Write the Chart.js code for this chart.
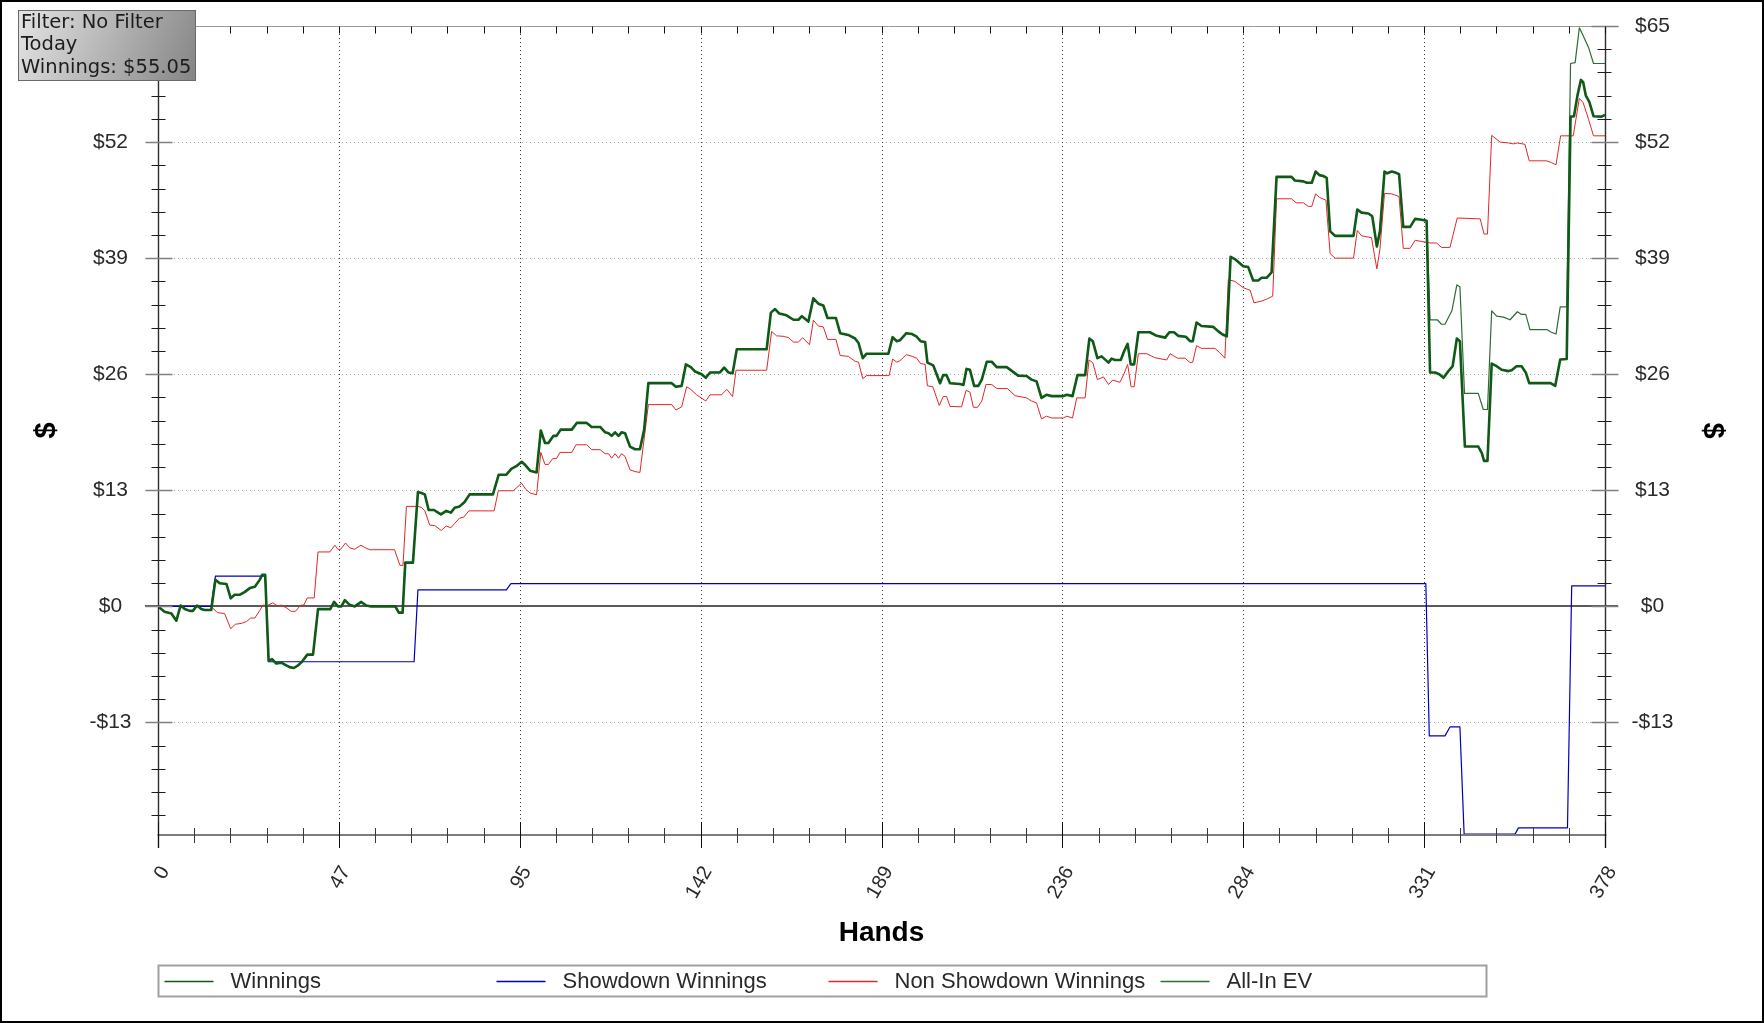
<!DOCTYPE html>
<html>
<head>
<meta charset="utf-8">
<script src="https://cdn.jsdelivr.net/npm/chart.js@4.4.1/dist/chart.umd.min.js"></script>
<style>
  html, body { margin: 0; padding: 0; background: #ffffff; }
  canvas { display: block; }
</style>
</head>
<body>
<canvas id="c" width="1764" height="1023" style="width:1764px;height:1023px"></canvas>
<script>
// ---------------- DATA ----------------
const seriesNames = ['Winnings', 'Showdown Winnings', 'Non Showdown Winnings', 'All-In EV'];
const infoLines = ['Filter: No Filter', 'Today', 'Winnings: $55.05'];
const xTitle = 'Hands';
const yTitle = '$';

const xTickValues = [0, 47.25, 94.5, 141.75, 189, 236.25, 283.5, 330.75, 378];
const xTickLabels = ['0', '47', '95', '142', '189', '236', '284', '331', '378'];
const yTickValues = [-13, 0, 13, 26, 39, 52, 65];
const yTickLabels = ['-$13', '$0', '$13', '$26', '$39', '$52', '$65'];
const yMin = -25.6;
const yMax = 65;
const xMin = 0;
const xMax = 378;

// [hand, dollars]
const winnings = [
  [0,0],[1.7,-0.6],[3.5,-0.8],[4.8,-1.6],[5.9,0.1],[7,-0.3],[8.3,-0.5],[9.1,-0.5],[10.2,0.1],[11.3,-0.3],
  [12.2,-0.4],[13.9,-0.4],[15,3.0],[16.1,2.6],[17.9,2.5],[19,0.9],[20,1.3],[21.3,1.3],[22.6,1.6],[24,2.05],
  [25.3,2.2],[26.6,3.0],[27.2,3.55],[28,3.55],[28.9,-6.1],[29.8,-5.9],[30.9,-6.4],[32.2,-6.3],[33.5,-6.6],
  [34.4,-6.8],[35.5,-6.9],[36.6,-6.6],[37.6,-6.2],[39,-5.4],[40.5,-5.4],[41.8,-0.3],[45,-0.3],[46,0.5],
  [47,0.0],[47.9,0.0],[48.8,0.7],[50,0.2],[51.4,0.0],[53.1,0.5],[54.4,0.1],[55.7,0],[62,0],[62.9,-0.7],
  [63.9,-0.7],[64.6,4.9],[66.6,4.9],[67.9,12.8],[68.8,12.7],[69.7,12.55],[70.7,10.8],[72.1,10.8],[73.9,10.3],
  [75.3,10.7],[76.5,10.5],[77.5,11.05],[78.8,11.2],[80.1,11.7],[81.4,12.55],[87.5,12.55],[89,14.75],[91,14.75],
  [92.3,15.4],[93.6,15.7],[95,16.2],[96,15.8],[97.2,15.2],[98.9,15.0],[100,19.7],[101.1,18.3],[102,18.3],
  [103.3,19.1],[104.1,19.1],[105.2,19.8],[108.1,19.8],[109.4,20.55],[112,20.55],[113.3,20.1],[115.5,20.1],
  [116.8,19.5],[117.7,19.4],[118.5,19.1],[119.4,19.5],[120.3,19.1],[121.1,19.5],[122,19.4],[123.3,17.9],
  [124.6,17.6],[125.9,17.6],[127,19.8],[128.1,25.0],[134.2,25.0],[135.3,24.6],[136.8,24.7],[137.9,27.1],
  [139.2,26.8],[140.3,26.3],[142,26.0],[143.1,25.6],[144.2,26.2],[146.8,26.2],[147.9,26.75],[149,26.2],
  [150.1,26.1],[151.2,28.8],[159,28.8],[160.1,32.9],[161.2,33.3],[162.3,32.8],[164.2,32.6],[166,32.1],
  [167.3,32.1],[168.2,32.5],[169.9,31.9],[171.2,34.5],[172.5,33.9],[173.8,33.7],[174.9,32.3],[177.1,32.3],
  [178.2,30.6],[180.3,30.4],[182.1,30.0],[183,29.5],[184.1,27.8],[185.1,28.3],[190.8,28.3],[191.9,30.15],
  [193,29.7],[193.8,29.8],[195.5,30.6],[197,30.5],[198.2,30.2],[199.2,29.7],[200.4,29.6],[201,27.3],
  [202.5,27.0],[204.3,25.0],[205.1,25.9],[206,25.9],[206.9,25.0],[209.5,24.9],[210.4,24.8],[211.2,26.6],
  [212.1,26.5],[213.2,24.7],[214.3,24.7],[215.2,25.4],[216.5,27.4],[217.8,27.4],[219.1,26.8],[221.7,26.8],
  [224.7,25.85],[226.9,25.8],[228.2,25.4],[229.5,25.2],[230.8,23.35],[232.1,23.7],[233.5,23.55],[236.5,23.55],
  [237.4,23.7],[238.9,23.55],[240.2,25.9],[242.2,25.9],[243.3,30.0],[244.2,29.7],[245.4,27.8],[246.5,28.0],
  [248.3,27.3],[249.1,27.75],[250,27.6],[251.5,27.6],[252.4,28.6],[253.3,29.4],[254.1,27.1],[255,27.1],
  [256.1,30.7],[259.1,30.7],[260.9,30.3],[263.1,30.1],[264.2,30.7],[265.4,30.7],[266.5,30.3],[268.5,30.2],
  [269.6,29.7],[270.3,29.7],[271.3,31.8],[272.6,31.4],[275.7,31.3],[277,30.8],[278.1,30.45],[279.2,30.25],
  [280.2,39.15],[281.3,38.9],[283.5,38.1],[284.8,38.0],[286.1,36.5],[287.4,36.5],[288.3,36.8],[289.6,36.8],
  [290.9,37.4],[292.2,48.1],[296.1,48.1],[297,47.7],[299.2,47.6],[300.1,47.45],[301.4,47.45],[302.4,48.7],
  [303.4,48.3],[304.4,48.2],[305.3,48.0],[306.2,42.0],[307.5,41.5],[312.3,41.5],[313.3,44.45],[314.4,44.1],
  [316.2,44.0],[317.2,43.7],[318.4,40.3],[319.2,42.0],[320.4,48.7],[321.1,48.5],[322.3,48.7],[323.2,48.6],
  [324.2,48.4],[325.3,42.5],[327.1,42.5],[328.4,43.4],[330.1,43.3],[331.4,43.2],[332.3,26.2],[333.6,26.2],
  [334.7,26.0],[335.8,25.6],[337.1,26.35],[338.2,26.9],[339.3,30.0],[340.1,29.7],[341.4,17.9],[344.9,17.9],
  [345.8,17.2],[346.4,16.3],[347.3,16.3],[348.4,27.2],[349.7,26.9],[351,26.5],[352.8,26.35],[353.6,26.45],
  [354.9,26.9],[356.2,26.9],[357.3,26.2],[358.2,25.0],[361.9,25.0],[363.8,25.0],[365,24.7],[366.3,27.65],
  [368,27.7],[369,54.85],[369.9,54.9],[370.8,57.2],[371.7,58.96],[372.3,58.7],[373,57.2],[373.9,56.5],
  [375,54.9],[377.1,54.85],[378,55.05]
];

const showdownWinnings = [
  [0,0],[13.9,0],[15,3.4],[28,3.4],[28.9,-6.2],[66.9,-6.2],[67.9,1.85],[91,1.85],[92.2,2.55],[331.2,2.55],
  [332.1,-14.5],[336.2,-14.5],[337.5,-13.5],[340.1,-13.5],[341.2,-25.5],[354.5,-25.5],[355.4,-24.8],
  [368.2,-24.8],[369.3,2.3],[378,2.3]
];

const nonShowdownWinnings = [
  [0,0],[13.9,0],[15.5,-0.7],[17.4,-0.8],[19,-2.5],[20.2,-2.0],[21.8,-1.9],[23.1,-1.7],[24.2,-1.3],[25.3,-1.3],
  [26.6,-0.45],[27.4,0.15],[28.6,0.1],[30,0.4],[31.2,0.05],[32.2,0.15],[33.5,-0.15],[34.8,-0.55],[35.9,-0.55],
  [37.3,0.15],[38.1,0.15],[39,0.95],[40.8,0.95],[41.8,6.1],[44.9,6.1],[46.2,6.85],[47,6.4],[47.7,6.4],[49,7.1],
  [50.1,6.55],[51.4,6.4],[53,6.85],[54,6.6],[55.3,6.35],[61.8,6.35],[63.2,4.6],[64,4.6],[64.9,11.2],[67.8,11.2],
  [68.8,11.1],[69.7,10.7],[71,9.1],[72.3,9.05],[74,8.5],[75.3,9.0],[76.5,8.8],[77.5,9.3],[78.8,9.9],[79.9,10.0],
  [81.2,10.7],[87.8,10.7],[88.9,12.95],[92.8,12.95],[95,13.8],[96,13.15],[97.2,12.7],[98.9,12.5],[100,17.25],
  [101.1,15.9],[102,15.9],[103.1,16.55],[104.1,16.55],[105,17.25],[108.1,17.25],[109.2,18.1],[112,18.1],
  [113.3,17.55],[115.5,17.55],[116.8,17.1],[117.7,17.1],[118.5,16.6],[119.4,17.1],[120.3,16.6],[121.1,17.1],
  [122,16.8],[123.3,15.3],[124.6,15.1],[125.9,15.0],[128.1,22.6],[134.2,22.6],[135.3,22.0],[136.8,22.35],
  [138.1,24.6],[139.2,24.3],[140.7,23.7],[143.1,23.0],[144.2,23.7],[147.2,23.7],[148.6,24.3],[150.1,23.5],
  [151,26.45],[159,26.45],[160.3,30.8],[161.6,30.3],[163.3,30.25],[164.7,30.1],[166,29.6],[167.3,29.6],
  [168.4,30.1],[170.2,29.3],[171.2,32.05],[172.5,31.4],[173.8,31.3],[174.9,29.9],[177.1,29.9],[178.2,28.1],
  [180.3,28.0],[182.1,27.45],[183,27.35],[184.1,25.5],[185.1,25.85],[191,25.85],[191.9,27.7],[193,27.35],
  [193.8,27.5],[195.5,28.2],[197,28.0],[198.2,27.8],[199.2,27.2],[200.4,27.1],[201,24.7],[202.4,24.6],
  [204.1,22.5],[205.1,23.5],[206,23.5],[206.9,22.4],[209.9,22.35],[211.1,24.2],[212.1,24.0],[213,22.3],
  [214.1,22.3],[215.2,23.0],[216.3,24.85],[217.8,24.85],[219.1,24.4],[221.9,24.4],[223.9,23.6],[226.9,23.35],
  [228.2,23.0],[229.5,22.8],[230.8,21.0],[232.1,21.3],[233.5,21.1],[236.5,21.1],[237.4,21.3],[238.9,21.1],
  [240,23.35],[242.2,23.35],[243.2,27.6],[244.2,27.3],[245.4,25.4],[247,25.7],[248.3,24.85],[249.4,25.35],
  [251.3,25.1],[252.4,26.1],[253.3,27.1],[254.2,24.6],[255,24.6],[256.1,28.3],[258.3,28.3],[260.4,27.85],
  [263.5,27.6],[264.4,28.3],[266.3,27.8],[268.3,27.8],[269.6,27.3],[270.3,27.35],[271.3,29.2],[272.6,28.9],
  [276.1,28.9],[277.4,28.4],[278.7,27.8],[279.6,36.6],[281.3,36.4],[283.5,35.7],[285.3,35.4],[286.3,34.0],
  [288.3,34.2],[289.6,34.4],[291.2,34.75],[292.2,45.65],[296.1,45.65],[297.3,45.2],[299.2,45.2],[300.5,44.8],
  [301.4,44.8],[302.4,46.2],[303.4,45.8],[305.1,45.5],[306.2,39.5],[307.5,39.0],[312.3,39.0],[313.3,42.1],
  [314.4,41.5],[317,41.3],[318.4,37.8],[319.2,40.0],[320.4,46.25],[322.3,46.2],[324.2,45.9],[325.3,40.1],
  [327.1,40.1],[328.4,41.0],[331,40.8],[332.3,40.7],[334,40.7],[335.3,40.2],[337.5,40.2],[339.4,43.5],
  [345.4,43.4],[346.4,41.7],[347.3,41.7],[348.4,52.75],[350.6,52.0],[352.8,51.9],[354.1,51.8],[355.1,51.9],
  [357.1,51.75],[358.2,49.9],[362.8,49.9],[364,49.7],[365.2,49.45],[366.4,52.7],[369.7,52.7],[371.3,56.9],
  [372.3,56.4],[373.7,54.55],[375,52.7],[378,52.7]
];

// All-In EV runs on top of Winnings up to hand ~331, then separates:
const allInEvSplitHand = 331.4;
const allInEvAfterSplit = [
  [332.3,32.1],[334.2,32.1],[335.3,31.6],[336.2,31.6],[338,33.1],[339.3,36.0],[340.1,35.8],[341.3,23.85],
  [344.9,23.85],[346.2,22.05],[347.3,22.05],[348.4,33.1],[349.7,32.5],[351.5,32.4],[353.2,32.1],[355.1,33.0],
  [356.2,32.7],[357.3,32.7],[358.4,31.0],[362.8,31.0],[364,30.7],[365.2,30.5],[366.3,33.55],[368,33.55],
  [369,60.8],[370.2,60.9],[371.3,64.8],[372.3,63.9],[373.7,62.6],[375,60.8],[378,60.8]
];
const allInEv = winnings.filter(p => p[0] <= allInEvSplitHand).concat(allInEvAfterSplit);

// ---------------- STYLE ----------------
const SANS = "'Liberation Sans', Arial, Helvetica, sans-serif";
const INFO_FONT = "'DejaVu Sans', Verdana, sans-serif";
const seriesColors = ['#0e5a16', '#0000c0', '#e02828', '#2f6b36'];
const seriesWidths = [2.6, 1.2, 1, 1.2];

const toXY = arr => arr.map(p => ({ x: p[0], y: p[1] }));

function subdivide(values, parts) {
  const out = [];
  for (let i = 0; i < values.length - 1; i++) {
    const a = values[i], b = values[i + 1];
    for (let k = 1; k < parts; k++) out.push(a + (b - a) * k / parts);
  }
  return out;
}

const framePlugin = {
  id: 'framePlugin',
  beforeDraw(chart) {
    const ctx = chart.ctx;
    ctx.save();
    ctx.fillStyle = '#ffffff';
    ctx.fillRect(0, 0, chart.width, chart.height);
    ctx.restore();
  },
  beforeDatasetsDraw(chart) {
    const { ctx, chartArea: a, scales } = chart;
    const xs = scales.x, ys = scales.y;
    ctx.save();
    ctx.lineWidth = 1;
    ctx.strokeStyle = '#a8a8a8';
    ctx.setLineDash([1, 3]);
    yTickValues.forEach(v => {
      if (v === 0) return;
      const y = Math.round(ys.getPixelForValue(v)) + 0.5;
      ctx.beginPath(); ctx.moveTo(a.left, y); ctx.lineTo(a.right, y); ctx.stroke();
    });
    ctx.strokeStyle = '#3a3a3a';
    xTickValues.forEach(v => {
      if (v === xMin || v === xMax) return;
      const x = Math.round(xs.getPixelForValue(v)) + 0.5;
      ctx.beginPath(); ctx.moveTo(x, a.top); ctx.lineTo(x, a.bottom); ctx.stroke();
    });
    ctx.setLineDash([]);
    const y0 = Math.round(ys.getPixelForValue(0));
    ctx.strokeStyle = '#5a5a5a';
    ctx.lineWidth = 2;
    ctx.beginPath(); ctx.moveTo(a.left - 13, y0); ctx.lineTo(a.right + 13, y0); ctx.stroke();
    ctx.restore();
  },
  afterDatasetsDraw(chart) {
    const { ctx, chartArea: a, scales } = chart;
    const xs = scales.x, ys = scales.y;
    const L = Math.round(a.left) + 0.5, R = Math.round(a.right) + 0.5;
    const T = Math.round(a.top) + 0.5, B = Math.round(a.bottom);
    ctx.save();
    ctx.strokeStyle = '#9a9a9a'; ctx.lineWidth = 1;
    ctx.beginPath(); ctx.moveTo(L, T); ctx.lineTo(R + 13, T); ctx.stroke();
    ctx.strokeStyle = '#7c7c7c'; ctx.lineWidth = 2;
    ctx.beginPath(); ctx.moveTo(L - 1, B); ctx.lineTo(R + 1, B); ctx.stroke();
    ctx.strokeStyle = '#2e2e2e'; ctx.lineWidth = 1.4;
    ctx.beginPath(); ctx.moveTo(L, a.top); ctx.lineTo(L, B + 13); ctx.stroke();
    ctx.beginPath(); ctx.moveTo(R, a.top); ctx.lineTo(R, B + 13); ctx.stroke();

    const yMinor = subdivide(yTickValues, 5).concat([yTickValues[0] - 2.6, yTickValues[0] - 5.2, yTickValues[0] - 7.8, yTickValues[0] - 10.4]);
    ctx.lineWidth = 1;
    ctx.strokeStyle = '#1e1e1e';
    yMinor.forEach(v => {
      if (v < yMin) return;
      const y = Math.round(ys.getPixelForValue(v)) + 0.5;
      ctx.beginPath(); ctx.moveTo(L - 7, y); ctx.lineTo(L + 7, y); ctx.stroke();
      ctx.beginPath(); ctx.moveTo(R - 8, y); ctx.lineTo(R + 6, y); ctx.stroke();
    });
    ctx.strokeStyle = '#808080';
    ctx.lineWidth = 1.5;
    yTickValues.forEach(v => {
      const y = Math.round(ys.getPixelForValue(v)) + 0.5;
      ctx.beginPath(); ctx.moveTo(L - 13, y); ctx.lineTo(L + 14, y); ctx.stroke();
      ctx.beginPath(); ctx.moveTo(R - 14, y); ctx.lineTo(R + 13, y); ctx.stroke();
    });

    const xMinor = subdivide(xTickValues, 5);
    ctx.lineWidth = 1;
    ctx.strokeStyle = '#3a3a3a';
    xMinor.forEach(v => {
      const x = Math.round(xs.getPixelForValue(v)) + 0.5;
      ctx.beginPath(); ctx.moveTo(x, B - 7); ctx.lineTo(x, B + 8); ctx.stroke();
    });
    ctx.strokeStyle = '#111111';
    xTickValues.forEach(v => {
      const x = Math.round(xs.getPixelForValue(v)) + 0.5;
      ctx.beginPath(); ctx.moveTo(x, B - 13); ctx.lineTo(x, B + 13); ctx.stroke();
    });
    xMinor.concat(xTickValues).forEach(v => {
      const x = Math.round(xs.getPixelForValue(v)) + 0.5;
      ctx.beginPath(); ctx.moveTo(x, T); ctx.lineTo(x, T + 7); ctx.stroke();
    });
    ctx.restore();
  },
  afterDraw(chart) {
    const ctx = chart.ctx;
    const a = chart.chartArea;
    ctx.save();
    // ---- legend box ----
    const lx = Math.round(a.left) + 0.5, ly = 965.5, lw = 1328, lh = 31;
    ctx.fillStyle = '#ffffff';
    ctx.fillRect(lx, ly, lw, lh);
    ctx.strokeStyle = '#a0a0a0'; ctx.lineWidth = 2;
    ctx.strokeRect(lx, ly, lw, lh);
    const colW = lw / 4;
    const cy = ly + lh / 2;
    chart.data.datasets.forEach((ds, i) => {
      const x0 = lx + 6 + i * colW;
      ctx.strokeStyle = ds.borderColor;
      ctx.lineWidth = 1.5;
      ctx.beginPath(); ctx.moveTo(x0, Math.round(cy) + 0.5); ctx.lineTo(x0 + 49, Math.round(cy) + 0.5); ctx.stroke();
      ctx.fillStyle = '#2a2a2a';
      ctx.font = '22px ' + SANS;
      ctx.textAlign = 'left';
      ctx.textBaseline = 'middle';
      ctx.fillText(ds.label, x0 + 66, cy + 1);
    });
    // ---- info box ----
    const bx = 18.5, by = 10.5, bw = 177, bh = 70;
    const g = ctx.createLinearGradient(bx, by, bx + bw, by + bh);
    g.addColorStop(0, '#e4e4e4');
    g.addColorStop(1, '#858585');
    ctx.fillStyle = g;
    ctx.fillRect(bx, by, bw, bh);
    ctx.strokeStyle = '#6a6a6a'; ctx.lineWidth = 1;
    ctx.strokeRect(bx, by, bw, bh);
    ctx.fillStyle = '#1c1c1c';
    ctx.font = '19.5px ' + INFO_FONT;
    ctx.textAlign = 'left';
    ctx.textBaseline = 'middle';
    infoLines.forEach((t, i) => ctx.fillText(t, 21, 22.5 + i * 22.8));
    // ---- outer frame ----
    ctx.strokeStyle = '#000000'; ctx.lineWidth = 2;
    ctx.strokeRect(1, 1, chart.width - 2, chart.height - 2);
    ctx.restore();
  }
};

const datasets = [winnings, showdownWinnings, nonShowdownWinnings, allInEv].map((arr, i) => ({
  label: seriesNames[i],
  data: toXY(arr),
  borderColor: seriesColors[i],
  backgroundColor: seriesColors[i],
  borderWidth: seriesWidths[i],
  pointRadius: 0,
  tension: 0,
  fill: false,
  borderJoinStyle: 'round',
  yAxisID: 'y'
}));

const yScaleCommon = (position, width, titlePad) => ({
  type: 'linear',
  position,
  min: yMin,
  max: yMax,
  bounds: 'data',
  afterBuildTicks: s => { s.ticks = yTickValues.map(v => ({ value: v })); },
  afterFit: s => { s.width = width; s.paddingTop = 0; s.paddingBottom = 0; },
  grid: { display: false, drawTicks: false },
  border: { display: false },
  ticks: {
    autoSkip: false,
    crossAlign: 'center',
    padding: 26.5,
    color: '#2a2a2a',
    font: { family: SANS, size: 21 },
    callback: (v, i) => yTickLabels[i]
  },
  title: {
    display: true,
    text: yTitle,
    color: '#000000',
    font: { family: SANS, size: 29, weight: 'bold' },
    padding: { top: titlePad, bottom: 0 }
  }
});

new Chart(document.getElementById('c').getContext('2d'), {
  type: 'line',
  data: { datasets },
  options: {
    responsive: false,
    animation: false,
    devicePixelRatio: 1,
    layout: { padding: { left: 0, right: 0, top: 26, bottom: 63 } },
    plugins: { legend: { display: false }, tooltip: { enabled: false }, title: { display: false } },
    scales: {
      x: {
        type: 'linear',
        position: 'bottom',
        min: xMin,
        max: xMax,
        bounds: 'data',
        afterBuildTicks: s => { s.ticks = xTickValues.map(v => ({ value: v })); },
        afterFit: s => { s.height = 125; s.paddingLeft = 0; s.paddingRight = 0; },
        grid: { display: false, drawTicks: false },
        border: { display: false },
        ticks: {
          autoSkip: false,
          minRotation: 60,
          maxRotation: 60,
          padding: 27,
          labelOffset: 7,
          color: '#2a2a2a',
          font: { family: SANS, size: 20 },
          callback: (v, i) => xTickLabels[i]
        },
        title: {
          display: true,
          text: xTitle,
          color: '#000000',
          font: { family: SANS, size: 28, weight: 'bold' },
          padding: { top: 0, bottom: 10 }
        }
      },
      y: yScaleCommon('left', 158, 30),
      y2: yScaleCommon('right', 159, 35)
    }
  },
  plugins: [framePlugin]
});
</script>
</body>
</html>
